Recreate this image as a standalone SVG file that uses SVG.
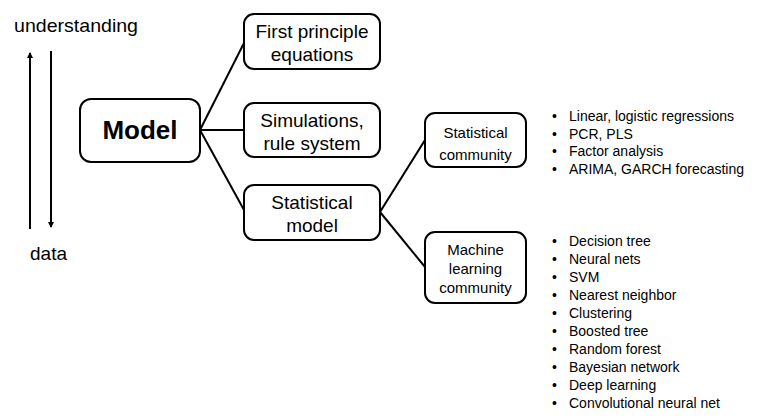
<svg xmlns="http://www.w3.org/2000/svg" width="759" height="419" viewBox="0 0 759 419">
<style>
.box{fill:#fff;stroke:#000;stroke-width:2}
.t{font-family:"Liberation Sans",Arial,sans-serif;fill:#000}
.b19{font-size:19px;text-anchor:middle}
.b15{font-size:15px;text-anchor:middle}
.li{font-size:14px}
.conn{stroke:#000;stroke-width:2;fill:none}
</style>
<defs>
<marker id="ah" markerWidth="6" markerHeight="6" refX="5" refY="3" orient="auto" markerUnits="userSpaceOnUse">
<path d="M0,0 L6,3 L0,6 z" fill="#000"/>
</marker>
</defs>
<rect width="759" height="419" fill="#fff"/>
<g id="axis">
<text class="t" x="14" y="32" font-size="19" textLength="124" lengthAdjust="spacingAndGlyphs">understanding</text>
<text class="t" x="30" y="260" font-size="19">data</text>
<line class="conn" x1="30" y1="229" x2="30" y2="53" marker-end="url(#ah)"/>
<line class="conn" x1="51" y1="51" x2="51" y2="227" marker-end="url(#ah)"/>
</g>
<g id="connectors">
<line class="conn" x1="200" y1="130" x2="244" y2="43"/>
<line class="conn" x1="200" y1="130" x2="244" y2="130"/>
<line class="conn" x1="200" y1="130" x2="244" y2="210"/>
<line class="conn" x1="380" y1="212" x2="425" y2="140"/>
<line class="conn" x1="380" y1="212" x2="425" y2="267"/>
</g>
<g id="model">
<rect class="box" x="80" y="99" width="120" height="63" rx="11"/>
<text class="t" x="140" y="139" font-size="26" font-weight="bold" text-anchor="middle">Model</text>
</g>
<g id="first-principle">
<rect class="box" x="244" y="14" width="136" height="55" rx="10"/>
<text class="t b19" x="312" y="38">First principle</text>
<text class="t b19" x="312" y="61">equations</text>
</g>
<g id="simulations">
<rect class="box" x="244" y="103" width="136" height="54" rx="10"/>
<text class="t b19" x="312" y="127">Simulations,</text>
<text class="t b19" x="312" y="150">rule system</text>
</g>
<g id="statistical-model">
<rect class="box" x="244" y="185" width="136" height="55" rx="10"/>
<text class="t b19" x="312" y="209">Statistical</text>
<text class="t b19" x="312" y="232">model</text>
</g>
<g id="statistical-community">
<rect class="box" x="425" y="113" width="101" height="54" rx="10"/>
<text class="t b15" x="475.5" y="138">Statistical</text>
<text class="t b15" x="475.5" y="160">community</text>
</g>
<g id="ml-community">
<rect class="box" x="425" y="232" width="101" height="71" rx="10"/>
<text class="t b15" x="475.5" y="255">Machine</text>
<text class="t b15" x="475.5" y="274">learning</text>
<text class="t b15" x="475.5" y="293">community</text>
</g>
<g id="stat-list" class="t li">
<text x="552" y="121">•</text><text x="569" y="121">Linear, logistic regressions</text>
<text x="552" y="138.5">•</text><text x="569" y="138.5">PCR, PLS</text>
<text x="552" y="156">•</text><text x="569" y="156">Factor analysis</text>
<text x="552" y="173.5">•</text><text x="569" y="173.5">ARIMA, GARCH forecasting</text>
</g>
<g id="ml-list" class="t li">
<text x="552" y="246">•</text><text x="569" y="246">Decision tree</text>
<text x="552" y="264">•</text><text x="569" y="264">Neural nets</text>
<text x="552" y="282">•</text><text x="569" y="282">SVM</text>
<text x="552" y="300">•</text><text x="569" y="300">Nearest neighbor</text>
<text x="552" y="318">•</text><text x="569" y="318">Clustering</text>
<text x="552" y="336">•</text><text x="569" y="336">Boosted tree</text>
<text x="552" y="354">•</text><text x="569" y="354">Random forest</text>
<text x="552" y="372">•</text><text x="569" y="372">Bayesian network</text>
<text x="552" y="390">•</text><text x="569" y="390">Deep learning</text>
<text x="552" y="408">•</text><text x="569" y="408">Convolutional neural net</text>
</g>
</svg>
